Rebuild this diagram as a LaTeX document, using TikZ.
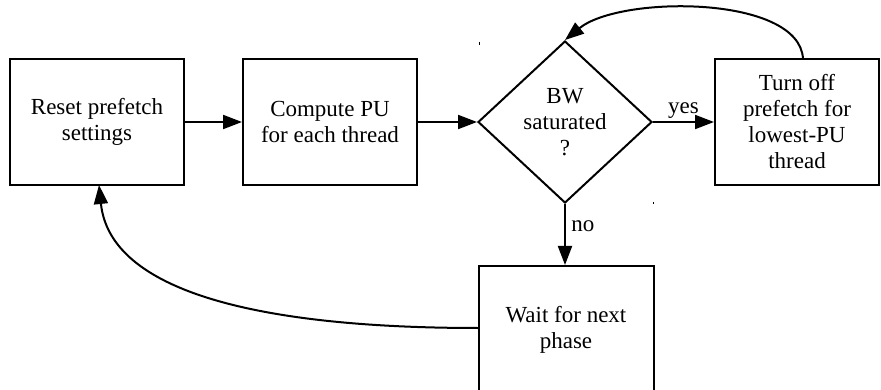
\documentclass[tikz,border=0pt]{standalone}
\usepackage{fontspec}
\setmainfont{Liberation Serif}
\usetikzlibrary{shapes.geometric,arrows.meta}
\begin{document}
\begin{tikzpicture}[x=1pt,y=-1pt,
  every node/.style={font=\fontsize{23}{26}\selectfont},
  box/.style={draw,line width=2pt,align=center,inner sep=0pt},
  dia/.style={draw,diamond,line width=2pt,align=center,inner sep=0pt,minimum width=174pt,minimum height=162pt},
  conn/.style={line width=2pt,-{Triangle[length=19pt,width=14pt]}},
  lbl/.style={font=\fontsize{23}{26}\selectfont}]
\useasboundingbox (0,0) rectangle (881,390);
\clip (0,0) rectangle (881,390);
\node[box,minimum width=174pt,minimum height=126pt] (reset) at (97,122) {Reset prefetch\\settings};
\node[box,minimum width=174pt,minimum height=126pt] (compute) at (330,122) {Compute PU\\for each thread};
\node[dia] (bw) at (565,122) {BW\\saturated\\?};
\node[box,minimum width=164pt,minimum height=126pt] (off) at (797,122) {Turn off\\prefetch for\\lowest-PU\\thread};
\node[box,minimum width=175pt,minimum height=128pt] (wait) at (566,330) {Wait for next\\phase};
\coordinate (offtop) at (803,59);
\coordinate (waitleft) at (478,328);
\coordinate (resetbot) at (99,185);
\draw[conn] (reset.east) -- (compute.west);
\draw[conn] (compute.east) -- (bw.west);
\draw[conn] (bw.east) -- node[lbl,above,yshift=-1pt] {yes} (off.west |- bw.east);
\draw[conn] (bw.south) -- node[lbl,right,xshift=2pt,pos=0.37] {no} (wait.north -| bw.south);
\draw[conn] (offtop) .. controls (800,-5) and (620,-5) .. (bw.north);
\draw[conn] (waitleft) .. controls (260,328) and (110,292) .. (resetbot);
\draw[line width=0.8pt] (479,42) -- (479,45);
\draw[line width=0.8pt] (653,202.5) -- (653,204.5);
\end{tikzpicture}
\end{document}
